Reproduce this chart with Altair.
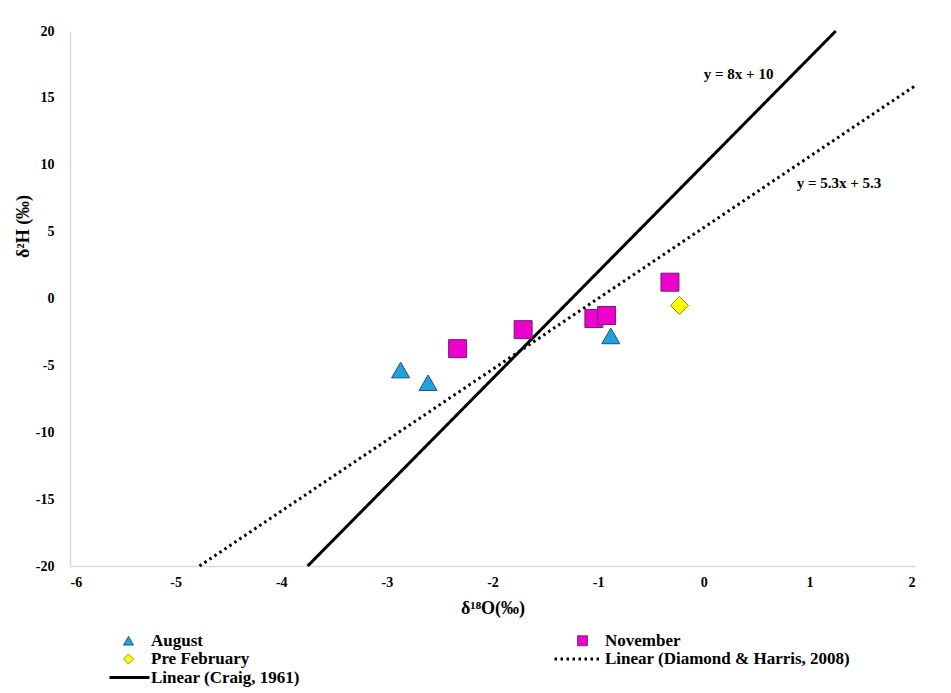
import altair as alt
import pandas as pd

# ---- data ----
series_names = ["August", "November", "Pre February",
                "Linear (Diamond & Harris, 2008)", "Linear (Craig, 1961)"]

aug_x = [-2.87, -2.61, -0.88]
aug_y = [-5.35, -6.3, -2.8]
nov_x = [-2.33, -1.71, -1.04, -0.92, -0.32]
nov_y = [-3.75, -2.33, -1.5, -1.27, 1.22]
feb_x = [-0.23]
feb_y = [-0.52]

craig_x = [-3.75, 1.25]
craig_y = [-20.0, 20.0]
dh_x = [-4.774, 2.0]
dh_y = [-20.0, 15.9]

eq_labels = ["y = 8x + 10", "y = 5.3x + 5.3"]
eq_x = [0.33, 1.28]
eq_y = [16.8, 8.67]

x_ticks = [-6, -5, -4, -3, -2, -1, 0, 1, 2]
y_ticks = [-20, -15, -10, -5, 0, 5, 10, 15, 20]

# ---- tables ----
pts = pd.DataFrame(
    [{"series": "August", "x": a, "y": b} for a, b in zip(aug_x, aug_y)]
    + [{"series": "November", "x": a, "y": b} for a, b in zip(nov_x, nov_y)]
    + [{"series": "Pre February", "x": a, "y": b} for a, b in zip(feb_x, feb_y)]
)
lines = pd.DataFrame(
    [{"series": "Linear (Craig, 1961)", "x": a, "y": b} for a, b in zip(craig_x, craig_y)]
    + [{"series": "Linear (Diamond & Harris, 2008)", "x": a, "y": b} for a, b in zip(dh_x, dh_y)]
)
eqs = pd.DataFrame({"label": eq_labels, "x": eq_x, "y": eq_y})

FONT = "Liberation Serif"

fill_scale = alt.Scale(domain=series_names,
                       range=["#1FA3DD", "#EE00CC", "#FFFF00", "transparent", "transparent"])
stroke_scale = alt.Scale(domain=series_names,
                         range=["#1F4E79", "#6E1F6E", "#8C8C00", "black", "black"])
shape_scale = alt.Scale(domain=series_names,
                        range=["triangle-up", "square", "diamond", "M-5.6,0H3.4", "M-3.8,0H4.2"])
dash_scale = alt.Scale(domain=series_names,
                       range=[[1, 0], [1, 0], [1, 0], [2.5, 3.5], [1, 0]])
width_scale = alt.Scale(type="ordinal", domain=series_names, range=[1, 1, 1, 3, 3])

x_enc = alt.X("x:Q", scale=alt.Scale(domain=[-6, 2], nice=False),
              axis=alt.Axis(values=x_ticks, title="δ¹⁸O(‰)", grid=False, ticks=False,
                            domainColor="#D9D9D9", domainWidth=1.5,
                            labelExpr="'' + datum.value", labelPadding=9,
                            titleY=47, titleBaseline="alphabetic"))
y_enc = alt.Y("y:Q", scale=alt.Scale(domain=[-20, 20], nice=False),
              axis=alt.Axis(values=y_ticks, title="δ²H (‰)", grid=False, ticks=False,
                            domainColor="#D9D9D9", domainWidth=1.5,
                            labelExpr="'' + datum.value", labelPadding=16,
                            titleX=-42, titleY=195, titleBaseline="alphabetic"))

line_layer = alt.Chart(lines).mark_line().encode(
    x=x_enc, y=y_enc,
    stroke=alt.Stroke("series:N", scale=stroke_scale, title=None),
    strokeDash=alt.StrokeDash("series:N", scale=dash_scale, title=None),
    strokeWidth=alt.StrokeWidth("series:O", scale=width_scale, title=None),
    detail="series:N",
)

point_layer = alt.Chart(pts).mark_point(filled=True, size=324, opacity=1).encode(
    x=x_enc, y=y_enc,
    fill=alt.Fill("series:N", scale=fill_scale, title=None),
    stroke=alt.Stroke("series:N", scale=stroke_scale, title=None),
    shape=alt.Shape("series:N", scale=shape_scale, title=None),
    strokeWidth=alt.StrokeWidth("series:O", scale=width_scale, title=None),
)

text_layer = alt.Chart(eqs).mark_text(font=FONT, fontWeight="bold", fontSize=15,
                                      color="black").encode(
    x=x_enc, y=y_enc, text="label:N")

chart = alt.layer(line_layer, point_layer, text_layer).properties(
    width=845, height=535,
    autosize=alt.AutoSizeParams(type="none"),
    padding={"left": 62, "top": 23, "right": 5, "bottom": 124},
).configure_view(stroke="transparent").configure_axis(
    labelFont=FONT, labelFontWeight="bold", labelFontSize=14, labelColor="black",
    titleFont=FONT, titleFontWeight="bold", titleFontSize=18, titleColor="black",
).configure_legend(
    orient="none", legendX=50, legendY=601, columns=2, columnPadding=248,
    direction="horizontal",
    rowPadding=0.5, symbolSize=100, labelFont=FONT, labelFontWeight="bold",
    labelFontSize=17, labelLimit=400, labelOffset=14, padding=0, labelColor="black",
)

chart.save("out.html", embed_options={"renderer": "svg", "actions": False})
